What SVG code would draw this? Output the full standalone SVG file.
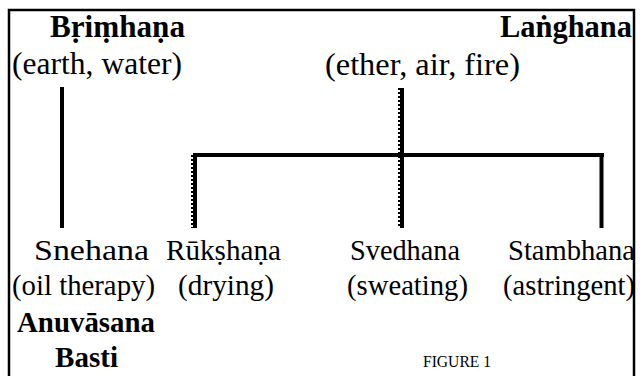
<svg xmlns="http://www.w3.org/2000/svg" width="640" height="376" viewBox="0 0 640 376">
<style>
.t{font-family:'Liberation Serif','Times New Roman',serif;font-size:29px;fill:#000}
.h{font-size:31px}
.b{font-weight:bold}
.ln{stroke:#000;stroke-width:4;fill:none}
.tk{stroke:#000;stroke-width:2;stroke-dasharray:2 2;fill:none}
</style>
<rect x="0" y="0" width="640" height="376" fill="#fff"/>
<path d="M9,380 V10 H634 V380" fill="none" stroke="#000" stroke-width="2.5"/>
<g id="connectors">
<line class="ln" x1="62" y1="87" x2="62" y2="228"/>
<line class="ln" x1="402" y1="88" x2="402" y2="228"/>
<line class="tk" x1="399" y1="88" x2="399" y2="228"/>
<line class="ln" x1="193" y1="155" x2="604" y2="155"/>
<line class="ln" x1="195" y1="153" x2="195" y2="228"/>
<line class="tk" x1="192" y1="155" x2="192" y2="228"/>
<line class="ln" x1="601.5" y1="157" x2="601.5" y2="228"/>
</g>
<g id="brimhana">
<text class="t h b" x="50" y="37" textLength="135" lengthAdjust="spacingAndGlyphs">Bṛiṃhaṇa</text>
<text class="t h" x="12" y="74" textLength="170" lengthAdjust="spacingAndGlyphs">(earth, water)</text>
</g>
<g id="langhana">
<text class="t h b" x="500" y="37" textLength="132" lengthAdjust="spacingAndGlyphs">Laṅghana</text>
<text class="t h" x="325" y="75" textLength="195" lengthAdjust="spacingAndGlyphs">(ether, air, fire)</text>
</g>
<g id="snehana">
<text class="t" x="34" y="260" textLength="115" lengthAdjust="spacingAndGlyphs">Snehana</text>
<text class="t" x="12" y="295" textLength="143" lengthAdjust="spacingAndGlyphs">(oil therapy)</text>
<text class="t b" x="17" y="332" textLength="138" lengthAdjust="spacingAndGlyphs">Anuvāsana</text>
<text class="t b" x="55" y="367" textLength="63" lengthAdjust="spacingAndGlyphs">Basti</text>
</g>
<g id="rukshana">
<text class="t" x="166" y="260" textLength="115" lengthAdjust="spacingAndGlyphs">Rūkṣhaṇa</text>
<text class="t" x="178" y="295" textLength="96" lengthAdjust="spacingAndGlyphs">(drying)</text>
</g>
<g id="svedhana">
<text class="t" x="350" y="260" textLength="110" lengthAdjust="spacingAndGlyphs">Svedhana</text>
<text class="t" x="347" y="295" textLength="121" lengthAdjust="spacingAndGlyphs">(sweating)</text>
</g>
<g id="stambhana">
<text class="t" x="508" y="260" textLength="127" lengthAdjust="spacingAndGlyphs">Stambhana</text>
<text class="t" x="503" y="295" textLength="132" lengthAdjust="spacingAndGlyphs">(astringent)</text>
</g>
<text class="t" x="423" y="367" textLength="68" lengthAdjust="spacingAndGlyphs" style="font-size:16px">FIGURE 1</text>
</svg>
